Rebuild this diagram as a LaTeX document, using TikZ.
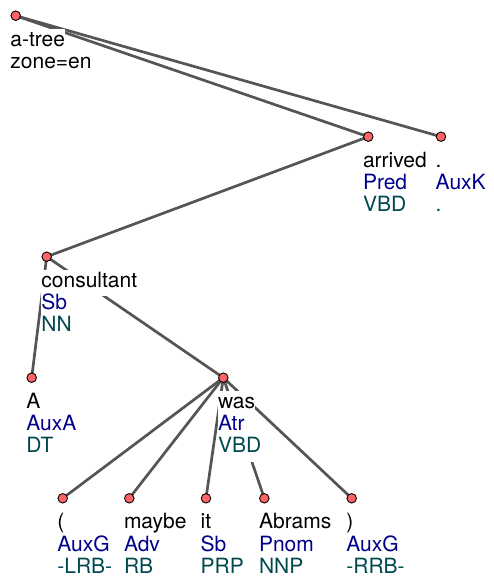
\documentclass[tikz,border=0pt]{standalone}
\usepackage{fontspec}
\setmainfont{TeX Gyre Heros}
\usetikzlibrary{backgrounds}
\definecolor{afuncol}{RGB}{0,0,139}
\definecolor{tagcol}{RGB}{0,72,80}
\definecolor{dotcol}{RGB}{255,99,99}
\definecolor{edgecol}{RGB}{85,85,85}
\tikzset{
  dot/.style={circle, draw=black, line width=0.9pt, fill=dotcol, minimum size=9.5pt, inner sep=0pt},
  lbl/.style={anchor=base west, inner xsep=0.4pt, inner ysep=0pt, fill=white, text height=17pt, text depth=9pt,
    font=\fontsize{21}{22}\selectfont},
  wd/.style={lbl, text=black},
  af/.style={lbl, text=afuncol},
  tg/.style={lbl, text=tagcol},
  edge/.style={draw=edgecol, line width=2.7pt},
}
\newcommand\tnode[6]{%
  \node[dot] (#1) at (#2,#3) {};
  \node[wd] (#1-w) at ([shift={(-5.9,30.5)}]#1.center) {#4};
  \node[af] (#1-a) at ([shift={(-5.9,52.8)}]#1.center) {#5};
  \node[tg] (#1-t) at ([shift={(-5.9,75.1)}]#1.center) {#6};
}
\begin{document}
\begin{tikzpicture}[x=1pt, y=-1pt]
\useasboundingbox (0,0) rectangle (493,584);
% root
\node[dot] (root) at (15.7,15.7) {};
\node[wd] (root-w) at ([shift={(-5.9,30.5)}]root.center) {a-tree};
\node[wd] (root-z) at ([shift={(-5.9,52.8)}]root.center) {zone=en};
% nodes
\tnode{arrived}{368.3}{136.7}{arrived}{Pred}{VBD}
\tnode{period}{441}{136.7}{.}{AuxK}{.}
\tnode{consultant}{46.7}{256.7}{consultant}{Sb}{NN}
\tnode{a}{31.7}{377.7}{A}{AuxA}{DT}
\tnode{was}{223.3}{377.7}{was}{Atr}{VBD}
\tnode{lrb}{62.7}{498.3}{(}{AuxG}{-LRB-}
\tnode{maybe}{129.3}{498.3}{maybe}{Adv}{RB}
\tnode{it}{206}{498.3}{it}{Sb}{PRP}
\tnode{abrams}{264.3}{498.3}{Abrams}{Pnom}{NNP}
\tnode{rrb}{351.7}{498.3}{)}{AuxG}{-RRB-}
% edges
\begin{scope}[on background layer]
\draw[edge] (root.center) -- (arrived.center);
\draw[edge] (root.center) -- (period.center);
\draw[edge] (arrived.center) -- (consultant.center);
\draw[edge] (consultant.center) -- (a.center);
\draw[edge] (consultant.center) -- (was.center);
\draw[edge] (was.center) -- (lrb.center);
\draw[edge] (was.center) -- (maybe.center);
\draw[edge] (was.center) -- (it.center);
\draw[edge] (was.center) -- (abrams.center);
\draw[edge] (was.center) -- (rrb.center);
\end{scope}
\end{tikzpicture}
\end{document}
